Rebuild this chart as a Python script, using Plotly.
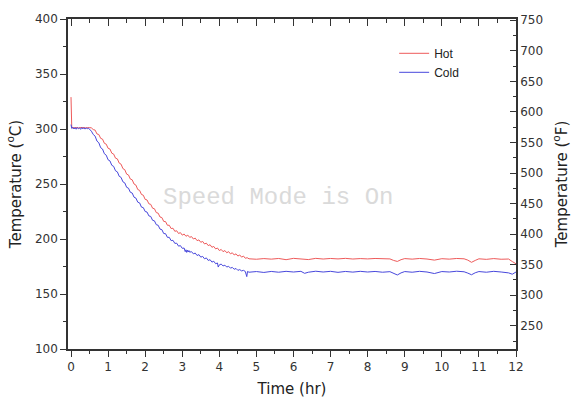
import plotly.graph_objects as go

# ---- data ----
hot_t = [0.0, 0.02, 0.1, 0.2, 0.3, 0.4, 0.5,
         0.55, 0.60, 0.65, 0.70, 0.75, 0.80, 0.85, 0.90, 0.95, 1.00,
         1.05, 1.10, 1.15, 1.20, 1.25, 1.30, 1.35, 1.40, 1.45, 1.50,
         1.55, 1.60, 1.65, 1.70, 1.75, 1.80, 1.85, 1.90, 1.95, 2.00,
         2.05, 2.10, 2.15, 2.20, 2.25, 2.30, 2.35, 2.40, 2.45, 2.50,
         2.55, 2.60, 2.65, 2.70, 2.75, 2.80, 2.85, 2.90, 2.95, 3.00,
         3.05, 3.10, 3.15, 3.20, 3.25, 3.30, 3.35, 3.40, 3.45, 3.50,
         3.55, 3.60, 3.65, 3.70, 3.75, 3.80, 3.85, 3.90, 3.95, 4.00,
         4.05, 4.10, 4.15, 4.20, 4.25, 4.30, 4.35, 4.40, 4.45, 4.50,
         4.55, 4.60, 4.65, 4.70, 4.75, 4.80,
         5.0, 5.2, 5.4, 5.6, 5.8, 6.0, 6.2, 6.4, 6.6, 6.8, 7.0, 7.2, 7.4,
         7.6, 7.8, 8.0, 8.2, 8.4, 8.6, 8.7, 8.8, 8.9, 9.0, 9.2, 9.4, 9.6,
         9.8, 10.0, 10.2, 10.4, 10.6, 10.7, 10.8, 10.9, 11.0, 11.2, 11.4,
         11.6, 11.8, 11.9, 12.0]
hot_c = [329, 301, 301.3, 301.0, 301.4, 301.0, 301.3,
         301, 299.5, 299.0, 295.5, 295.0, 291.5, 290.8, 287, 286.2, 282.5,
         281.8, 278, 277.2, 273.5, 272.8, 269, 268, 264, 263, 259,
         258.2, 254.5, 253.8, 250, 249, 245, 244.2, 240.5, 239.8, 236,
         235.5, 232, 231.5, 228, 227.5, 224, 223.5, 220, 219.5, 216,
         215.8, 212.5, 212.5, 209.5, 209.8, 207, 207.5, 205, 205.8, 203.5,
         204.5, 202.5, 203.5, 201.5, 202.2, 200, 200.8, 198.5, 199.2, 197,
         197.8, 195.5, 196.2, 194, 194.8, 192.5, 193.2, 191, 191.8, 189.5,
         190.5, 188.5, 189.5, 187.5, 188.5, 186.5, 187.5, 185.5, 186.5, 184.5,
         185.5, 183.5, 184.5, 182.5, 183, 182,
         181.6, 182.2, 181.7, 182.3, 181.2, 182.4, 182.0, 181.3, 182.4, 181.8,
         182.3, 181.9, 182.4, 181.8, 182.2, 181.9, 182.3, 182.1, 181.9, 180.5,
         179.6, 181.2, 182.2, 181.7, 182.3, 181.8, 180.8, 182.1, 181.7, 182.3,
         182.0, 180.8, 178.8, 180.5, 182.0, 181.5, 182.2, 181.6, 181.8, 179.5,
         177.5]

cold_t = [0.0, 0.02, 0.05, 0.08, 0.11, 0.14, 0.17, 0.20, 0.23, 0.26, 0.29,
          0.32, 0.35, 0.38, 0.41, 0.44, 0.47,
          0.50, 0.55, 0.60, 0.65, 0.70, 0.75, 0.80, 0.85, 0.90, 0.95, 1.00,
          1.05, 1.10, 1.15, 1.20, 1.25, 1.30, 1.35, 1.40, 1.45, 1.50,
          1.55, 1.60, 1.65, 1.70, 1.75, 1.80, 1.85, 1.90, 1.95, 2.00,
          2.05, 2.10, 2.15, 2.20, 2.25, 2.30, 2.35, 2.40, 2.45, 2.50,
          2.55, 2.60, 2.65, 2.70, 2.75, 2.80, 2.85, 2.90, 2.95, 3.00,
          3.05, 3.08, 3.10, 3.12, 3.14, 3.16, 3.18, 3.20, 3.25, 3.30,
          3.35, 3.40, 3.45, 3.50, 3.55, 3.60, 3.65, 3.70, 3.75, 3.80,
          3.85, 3.90, 3.95, 3.97, 4.00, 4.05, 4.10, 4.15, 4.20, 4.25,
          4.30, 4.35, 4.40, 4.45, 4.50, 4.55, 4.60, 4.65, 4.70, 4.74,
          4.76, 4.80,
          5.0, 5.2, 5.4, 5.6, 5.8, 6.0, 6.2, 6.3, 6.4, 6.6, 6.8, 7.0, 7.2,
          7.4, 7.6, 7.8, 8.0, 8.2, 8.4, 8.6, 8.7, 8.8, 8.9, 9.0, 9.2, 9.4,
          9.6, 9.8, 10.0, 10.2, 10.4, 10.6, 10.7, 10.8, 10.9, 11.0, 11.2,
          11.4, 11.6, 11.8, 11.9, 12.0]
cold_c = [304, 300.5, 301.5, 300.0, 301.2, 299.8, 301.4, 300.2, 301.0, 299.7,
          301.3, 300.1, 301.2, 299.9, 301.0, 300.3, 300.8,
          300, 298, 295, 293.5, 289, 287.5, 283, 281.8, 277.5, 276.2, 272,
          271, 267, 266, 262, 261, 257, 256, 252, 251, 247,
          246.2, 242.5, 241.8, 238, 237.2, 233.5, 232.8, 229, 228.5, 225,
          224.5, 221, 220.5, 217, 216.5, 213, 212.5, 209, 208.5, 205,
          204.8, 201.5, 201.5, 198.5, 198.8, 196, 196.2, 193.5, 194, 191.5,
          191.8, 188.5, 190.2, 187.8, 189.8, 188.2, 189.5, 188, 188.5, 186.5,
          187.2, 185, 185.8, 183.5, 184.2, 182, 182.8, 180.5, 181.2, 179,
          179.8, 177.5, 178.2, 174.5, 176.5, 177.2, 175.5, 176.2, 174.5, 175.2,
          173.5, 174.2, 172.5, 173.2, 171.5, 172.2, 171, 171.5, 170.5, 165.8,
          170.5, 169.8,
          170.4, 169.6, 170.5, 169.8, 170.6, 170.0, 170.6, 168.8, 169.8, 170.7,
          170.0, 170.6, 169.7, 170.5, 169.9, 170.6, 170.0, 170.5, 169.8, 170.3,
          168.8, 167.3, 169.2, 170.4, 169.8, 170.6, 170.0, 168.6, 170.4, 170.0,
          170.7, 170.2, 169.0, 167.5, 169.3, 170.4, 169.8, 170.6, 170.0, 169.2,
          168.0, 170.0]

series_names = ["Hot", "Cold"]
x_title = "Time (hr)"
y_title = "Temperature (<sup>o</sup>C)"
y2_title = "Temperature (<sup>o</sup>F)"
watermark = "Speed Mode is On"

FONT = "DejaVu Sans, Liberation Sans, Arial, sans-serif"
AX = "#333333"

fig = go.Figure()
fig.add_trace(go.Scatter(x=hot_t, y=hot_c, mode="lines", name=series_names[0],
                         line=dict(color="#ee5a5a", width=1)))
fig.add_trace(go.Scatter(x=cold_t, y=cold_c, mode="lines", name=series_names[1],
                         line=dict(color="#4848dc", width=1)))
# invisible anchor trace so the top and right axes are drawn
fig.add_trace(go.Scatter(x=[0], y=[500], xaxis="x2", yaxis="y2", mode="markers",
                         marker=dict(opacity=0), showlegend=False, hoverinfo="skip"))

common = dict(showgrid=False, zeroline=False, showline=True, linecolor=AX,
              linewidth=1.5, tickcolor=AX, tickwidth=1.2, automargin=False,
              tickfont=dict(family=FONT, size=12, color=AX))
title_font = dict(family=FONT, size=15, color="#222")

fig.update_layout(
    width=571, height=401,
    margin=dict(l=68, r=55, t=19, b=52, autoexpand=False),
    paper_bgcolor="white", plot_bgcolor="white",
    font=dict(family=FONT, color=AX),
    xaxis=dict(range=[-0.081, 12], tick0=0, dtick=1, ticks="outside", ticklen=6,
               minor=dict(dtick=0.5, ticks="outside", ticklen=3, tickcolor=AX),
               title=dict(text=x_title, font=title_font, standoff=10),
               **common),
    xaxis2=dict(range=[-0.081, 12], overlaying="x", side="top", anchor="y2",
                tick0=0, dtick=1, ticks="inside", ticklen=7, showticklabels=False,
                minor=dict(dtick=0.5, ticks="inside", ticklen=4, tickcolor=AX),
                **common),
    yaxis=dict(range=[100, 400], tick0=100, dtick=50, ticks="outside", ticklen=6,
               minor=dict(dtick=25, ticks="outside", ticklen=3, tickcolor=AX),
               title=dict(text=y_title, font=title_font, standoff=10),
               **common),
    yaxis2=dict(range=[212, 752], overlaying="y", side="right", anchor="x2",
                tick0=250, dtick=50, ticks="inside", ticklen=6,
                minor=dict(dtick=25, ticks="inside", ticklen=3, tickcolor=AX),
                title=dict(text=y2_title, font=title_font, standoff=14),
                **common),
    legend=dict(x=0.728, y=0.94, xanchor="left", yanchor="top",
                bgcolor="rgba(0,0,0,0)",
                font=dict(family="Liberation Sans, Arial, sans-serif", size=12, color="#222"),
                tracegroupgap=0, itemwidth=30),
    showlegend=True,
)
fig.add_annotation(text=watermark, xref="paper", yref="paper", x=0.469, y=0.46,
                   showarrow=False,
                   font=dict(family="Liberation Mono, Courier New, monospace",
                             size=24, color="#dadada"))

# remove the browser's default 8px body margin so the figure fills the window
fig.write_html("out.html", config={"displayModeBar": False},
               post_script="document.body.style.margin='0';")
